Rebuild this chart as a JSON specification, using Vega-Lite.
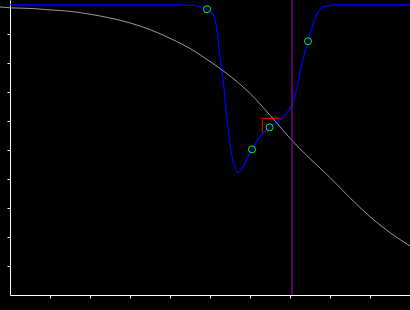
{
  "$schema": "https://vega.github.io/schema/vega-lite/v6.json",
  "width": 400,
  "height": 295,
  "autosize": {"type": "none"},
  "padding": {"left": 10, "top": 0, "right": 0, "bottom": 15},
  "background": "black",
  "config": {"view": {"stroke": null}},
  "datasets": {
    "gray": [
      {"x": -0.25, "y": 9.93}, {"x": 0, "y": 9.9}, {"x": 0.5, "y": 9.88}, {"x": 1, "y": 9.83},
      {"x": 1.5, "y": 9.78}, {"x": 2, "y": 9.68}, {"x": 2.5, "y": 9.55}, {"x": 3, "y": 9.38},
      {"x": 3.5, "y": 9.15}, {"x": 4, "y": 8.85}, {"x": 4.5, "y": 8.5}, {"x": 5, "y": 8.05},
      {"x": 5.5, "y": 7.55}, {"x": 6, "y": 6.95}, {"x": 6.5, "y": 6.2}, {"x": 7, "y": 5.4},
      {"x": 7.5, "y": 4.7}, {"x": 8, "y": 4.05}, {"x": 8.5, "y": 3.35}, {"x": 9, "y": 2.7},
      {"x": 9.5, "y": 2.15}, {"x": 10, "y": 1.69}
    ],
    "blue": [
      {"x": 0, "y": 10}, {"x": 4.25, "y": 10}, {"x": 4.6, "y": 9.98}, {"x": 4.925, "y": 9.85},
      {"x": 5.08, "y": 9.66}, {"x": 5.16, "y": 9.25}, {"x": 5.24, "y": 8.33}, {"x": 5.33, "y": 7.41},
      {"x": 5.41, "y": 6.26}, {"x": 5.49, "y": 5.34}, {"x": 5.58, "y": 4.6}, {"x": 5.7, "y": 4.23},
      {"x": 5.83, "y": 4.42}, {"x": 5.95, "y": 4.77}, {"x": 6.05, "y": 5.02}, {"x": 6.28, "y": 5.52},
      {"x": 6.49, "y": 5.78}, {"x": 6.74, "y": 6.03}, {"x": 6.91, "y": 6.27}, {"x": 7.05, "y": 6.55},
      {"x": 7.16, "y": 7.07}, {"x": 7.28, "y": 7.87}, {"x": 7.45, "y": 8.75}, {"x": 7.58, "y": 9.37},
      {"x": 7.74, "y": 9.83}, {"x": 7.91, "y": 9.97}, {"x": 8.2, "y": 10}, {"x": 10, "y": 10}
    ],
    "pts": [
      {"x": 4.925, "y": 9.85}, {"x": 6.05, "y": 5.02}, {"x": 6.49, "y": 5.78}, {"x": 7.45, "y": 8.75}
    ],
    "red": [
      {"i": 0, "x": 6.31, "y": 5.52}, {"i": 1, "x": 6.31, "y": 6.09}, {"i": 2, "x": 6.76, "y": 6.09}
    ],
    "vline": [{"x": 7.05}]
  },
  "encoding": {
    "x": {"field": "x", "type": "quantitative", "scale": {"domain": [0, 10], "nice": false, "zero": false},
      "axis": {"title": null, "labels": false, "grid": false, "values": [1,2,3,4,5,6,7,8,9], "tickSize": 3,
        "domainColor": "white", "tickColor": "white", "domainWidth": 1, "tickWidth": 1}},
    "y": {"field": "y", "type": "quantitative", "scale": {"domain": [0, 10.17], "nice": false, "zero": false},
      "axis": {"title": null, "labels": false, "grid": false, "values": [1,2,3,4,5,6,7,8,9], "tickSize": 3,
        "domainColor": "white", "tickColor": "white", "domainWidth": 1, "tickWidth": 1}}
  },
  "layer": [
    {"data": {"name": "red"}, "mark": {"type": "line", "color": "#d00000", "strokeWidth": 1.2}, "encoding": {"order": {"field": "i"}}},
    {"data": {"name": "blue"}, "mark": {"type": "line", "color": "#0000ff", "strokeWidth": 1.2, "interpolate": "monotone"}},
    {"data": {"name": "gray"}, "mark": {"type": "line", "color": "#9a9a9a", "strokeWidth": 1, "interpolate": "monotone"}},
    {"data": {"name": "pts"}, "mark": {"type": "point", "shape": "circle", "size": 49, "filled": false, "color": "#00ff00", "strokeWidth": 1, "opacity": 1}},
    {"data": {"name": "vline"}, "mark": {"type": "rule", "color": "#9a009a", "strokeWidth": 1.2}, "encoding": {"x": {"field": "x", "type": "quantitative"}, "y": null}}
  ]
}
